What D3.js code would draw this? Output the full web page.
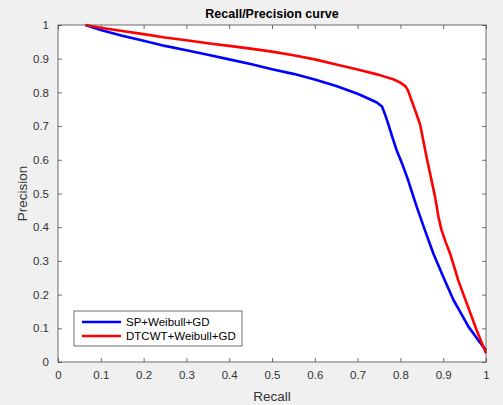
<!DOCTYPE html>
<html>
<head>
<meta charset="utf-8">
<script src="https://cdn.jsdelivr.net/npm/d3@7"></script>
<style>
  body { margin: 0; background: #f0f0f0; }
  svg { display: block; font-family: "Liberation Sans", Arial, sans-serif; }
  .tick text { fill: #333333; font-size: 11.5px; }
</style>
</head>
<body>
<div class="container"></div>
<script>
const chartTitle = 'Recall/Precision curve'
const xLabel = 'Recall'
const yLabel = 'Precision'
const seriesNames = ['SP+Weibull+GD', 'DTCWT+Weibull+GD']
const seriesColors = ['#0000ff', '#ff0000']
const xTicks = [0, 0.1, 0.2, 0.3, 0.4, 0.5, 0.6, 0.7, 0.8, 0.9, 1]
const yTicks = [0, 0.1, 0.2, 0.3, 0.4, 0.5, 0.6, 0.7, 0.8, 0.9, 1]

const spRecall = [0.064, 0.1, 0.15, 0.2, 0.25, 0.3, 0.35, 0.4, 0.45, 0.5, 0.55, 0.6, 0.65, 0.7, 0.73, 0.745, 0.757, 0.764, 0.771, 0.781, 0.791, 0.805, 0.818, 0.828, 0.838, 0.857, 0.877, 0.9, 0.924, 0.94, 0.959, 0.98, 1.0]
const spPrecision = [1.0, 0.985, 0.968, 0.953, 0.938, 0.925, 0.912, 0.898, 0.884, 0.869, 0.855, 0.838, 0.819, 0.796, 0.779, 0.770, 0.758, 0.735, 0.709, 0.668, 0.629, 0.585, 0.540, 0.500, 0.461, 0.392, 0.322, 0.253, 0.184, 0.148, 0.105, 0.068, 0.035]

const dtRecall = [0.064, 0.1, 0.15, 0.2, 0.25, 0.3, 0.35, 0.4, 0.45, 0.5, 0.55, 0.6, 0.65, 0.7, 0.75, 0.783, 0.8, 0.812, 0.818, 0.825, 0.835, 0.846, 0.853, 0.861, 0.871, 0.881, 0.889, 0.896, 0.906, 0.916, 0.925, 0.935, 0.955, 0.978, 1.0]
const dtPrecision = [1.0, 0.992, 0.982, 0.973, 0.963, 0.955, 0.946, 0.938, 0.930, 0.921, 0.910, 0.898, 0.883, 0.868, 0.852, 0.839, 0.829, 0.818, 0.805, 0.78, 0.745, 0.705, 0.66, 0.609, 0.550, 0.490, 0.430, 0.392, 0.355, 0.322, 0.285, 0.243, 0.174, 0.095, 0.026]

const width = 503
const height = 405
const margin = { left: 58, top: 25, right: 17, bottom: 43 }
const plotW = width - margin.left - margin.right
const plotH = height - margin.top - margin.bottom

const svg = d3.select('.container').append('svg')
  .attr('width', width)
  .attr('height', height)

svg.append('rect').attr('width', width).attr('height', height).attr('fill', '#f0f0f0')

const g = svg.append('g').attr('transform', `translate(${ margin.left }, ${ margin.top })`)

const xScale = d3.scaleLinear().domain([0, 1]).range([0, plotW])
const yScale = d3.scaleLinear().domain([0, 1]).range([plotH, 0])

g.append('rect')
  .attr('width', plotW)
  .attr('height', plotH)
  .attr('fill', '#ffffff')

const fmt = d => d3.format('')(d)
const axisColor = '#4a4a4a'

const styleAxis = sel => {
  sel.select('.domain').remove()
  sel.selectAll('.tick line').attr('stroke', axisColor).attr('stroke-width', 0.8)
}

g.append('g')
  .attr('transform', `translate(0, ${ plotH })`)
  .call(d3.axisBottom(xScale).tickValues(xTicks).tickFormat(fmt).tickSizeInner(-4).tickSizeOuter(0).tickPadding(9))
  .call(styleAxis)

g.append('g')
  .call(d3.axisTop(xScale).tickValues(xTicks).tickFormat('').tickSizeInner(-4).tickSizeOuter(0))
  .call(styleAxis)

g.append('g')
  .call(d3.axisLeft(yScale).tickValues(yTicks).tickFormat(fmt).tickSizeInner(-4).tickSizeOuter(0).tickPadding(9))
  .call(styleAxis)

g.append('g')
  .attr('transform', `translate(${ plotW }, 0)`)
  .call(d3.axisRight(yScale).tickValues(yTicks).tickFormat('').tickSizeInner(-4).tickSizeOuter(0))
  .call(styleAxis)

const line = d3.line()
  .x(d => xScale(d[0]))
  .y(d => yScale(d[1]))

const series = [
  d3.zip(spRecall, spPrecision),
  d3.zip(dtRecall, dtPrecision)
]

g.selectAll('path.curve').data(series)
  .enter()
  .append('path')
  .attr('class', 'curve')
  .attr('d', line)
  .attr('fill', 'none')
  .attr('stroke', (d, i) => seriesColors[i])
  .attr('stroke-width', 2.6)
  .attr('stroke-linejoin', 'round')

// axes box
g.append('rect')
  .attr('width', plotW)
  .attr('height', plotH)
  .attr('fill', 'none')
  .attr('stroke', axisColor)
  .attr('stroke-width', 0.8)

// title and labels
svg.append('text')
  .attr('x', margin.left + plotW / 2)
  .attr('y', 18)
  .attr('text-anchor', 'middle')
  .attr('font-size', 12.5)
  .attr('font-weight', 'bold')
  .attr('fill', '#000')
  .text(chartTitle)

svg.append('text')
  .attr('x', margin.left + plotW / 2)
  .attr('y', 401)
  .attr('text-anchor', 'middle')
  .attr('font-size', 13.5)
  .attr('fill', '#333333')
  .text(xLabel)

svg.append('text')
  .attr('transform', `translate(27, ${ margin.top + plotH / 2 }) rotate(-90)`)
  .attr('text-anchor', 'middle')
  .attr('font-size', 13.5)
  .attr('fill', '#333333')
  .text(yLabel)

// legend
const legend = svg.append('g').attr('transform', 'translate(74, 311)')
legend.append('rect')
  .attr('width', 168)
  .attr('height', 35)
  .attr('fill', '#fff')
  .attr('stroke', axisColor)
  .attr('stroke-width', 0.8)

const items = legend.selectAll('g.item').data(seriesNames)
  .enter()
  .append('g')
  .attr('class', 'item')
  .attr('transform', (d, i) => `translate(0, ${ 11 + i * 14 })`)

items.append('line')
  .attr('x1', 8).attr('x2', 47)
  .attr('stroke', (d, i) => seriesColors[i])
  .attr('stroke-width', 2.6)

items.append('text')
  .attr('x', 52)
  .attr('y', 4)
  .attr('font-size', 11.5)
  .attr('fill', '#000')
  .text(d => d)
</script>
</body>
</html>
